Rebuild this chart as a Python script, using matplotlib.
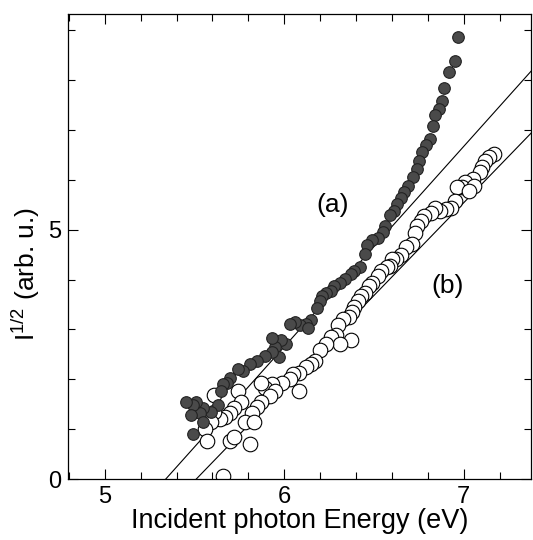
import numpy as np
import matplotlib.pyplot as plt
from matplotlib.ticker import MultipleLocator, FixedLocator

plt.rcParams['font.family'] = ['Liberation Sans', 'DejaVu Sans']
plt.rcParams['mathtext.fontset'] = 'custom'
plt.rcParams['mathtext.rm'] = 'Liberation Sans'

# series (a): filled circles
xa = [6.97, 6.95, 6.92, 6.89, 6.88, 6.86, 6.84, 6.83, 6.81, 6.79, 6.77, 6.75,
      6.74, 6.72, 6.69, 6.67, 6.65, 6.63, 6.61, 6.59, 6.56, 6.55, 6.52, 6.49,
      6.46, 6.45, 6.42, 6.39, 6.37, 6.34, 6.31, 6.28, 6.26, 6.23, 6.21, 6.20,
      6.18, 6.15, 6.12, 6.09, 6.06, 6.03, 6.13, 6.01, 5.98, 5.95, 5.93, 5.97,
      5.93, 5.89, 5.85, 5.81, 5.77, 5.74, 5.70, 5.68, 5.66, 5.65, 5.63, 5.59,
      5.55, 5.53, 5.51, 5.49, 5.45, 5.48, 5.55, 5.49]
ya = [8.86, 8.39, 8.17, 7.84, 7.59, 7.43, 7.31, 7.08, 6.82, 6.70, 6.56, 6.39,
      6.22, 6.05, 5.88, 5.75, 5.64, 5.51, 5.37, 5.30, 5.07, 4.96, 4.83, 4.79,
      4.69, 4.52, 4.25, 4.18, 4.11, 4.01, 3.94, 3.87, 3.77, 3.74, 3.67, 3.57,
      3.43, 3.19, 3.12, 3.09, 3.16, 3.12, 3.02, 2.71, 2.78, 2.65, 2.82, 2.44,
      2.54, 2.47, 2.37, 2.30, 2.17, 2.20, 2.03, 1.93, 1.90, 1.76, 1.49, 1.35,
      1.42, 1.32, 1.55, 1.49, 1.55, 1.28, 1.15, 0.91]

# series (b): open circles
xb = [7.17, 7.14, 7.12, 7.10, 7.09, 7.05, 7.01, 6.99, 6.96, 7.06, 7.03, 6.95,
      6.93, 6.90, 6.87, 6.84, 6.82, 6.78, 6.76, 6.74, 6.73, 6.71, 6.68, 6.65,
      6.62, 6.60, 6.59, 6.57, 6.54, 6.52, 6.49, 6.47, 6.45, 6.43, 6.41, 6.39,
      6.38, 6.36, 6.33, 6.30, 6.29, 6.26, 6.37, 6.31, 6.23, 6.20, 6.17, 6.15,
      6.12, 6.08, 6.05, 6.03, 5.99, 5.93, 5.89, 5.87, 5.95, 5.92, 6.08, 5.87,
      5.85, 5.82, 5.78, 5.83, 5.74, 5.76, 5.72, 5.70, 5.67, 5.64, 5.61, 5.61,
      5.59, 5.56, 5.57, 5.70, 5.72, 5.81, 5.66]
yb = [6.53, 6.46, 6.39, 6.26, 6.16, 6.02, 5.95, 5.85, 5.85, 5.88, 5.78, 5.58,
      5.44, 5.41, 5.37, 5.44, 5.34, 5.27, 5.17, 5.07, 4.93, 4.72, 4.66, 4.49,
      4.42, 4.42, 4.28, 4.25, 4.18, 4.08, 3.94, 3.87, 3.74, 3.67, 3.57, 3.46,
      3.36, 3.26, 3.22, 3.09, 2.88, 2.85, 2.78, 2.71, 2.71, 2.58, 2.37, 2.30,
      2.24, 2.13, 2.10, 2.00, 1.93, 1.90, 1.83, 1.93, 1.76, 1.66, 1.76, 1.55,
      1.45, 1.32, 1.15, 1.15, 1.76, 1.55, 1.42, 1.32, 1.25, 1.21, 1.69, 1.35,
      1.15, 1.01, 0.77, 0.77, 0.84, 0.70, 0.07]

# linear fits: x-intercept and slope
fit_a = (5.34, 4.02)
fit_b = (5.51, 3.72)

fig = plt.figure(figsize=(5.33, 5.40), dpi=100)
ax = fig.add_axes([68/533, 61/540, 463/533, 465/540])

for x0, k in (fit_a, fit_b):
    xx = np.array([x0, 7.5])
    ax.plot(xx, k*(xx - x0), color='black', linewidth=0.8, zorder=1)

ax.scatter(xb, yb, s=110, facecolors='white', edgecolors='black', linewidths=0.8, zorder=2)
ax.scatter(xa, ya, s=70, facecolors='#4a4a4a', edgecolors='#222222', linewidths=0.8, zorder=3)

ax.text(6.27, 5.5, '(a)', fontsize=19, ha='center', va='center')
ax.text(6.91, 3.87, '(b)', fontsize=19, ha='center', va='center')

ax.set_xlim(4.795, 7.375)
ax.set_ylim(0, 9.33)
ax.xaxis.set_major_locator(FixedLocator([5, 6, 7]))
ax.xaxis.set_minor_locator(MultipleLocator(0.2))
ax.yaxis.set_major_locator(FixedLocator([0, 5]))
ax.yaxis.set_minor_locator(MultipleLocator(1))
ax.tick_params(which='both', direction='in', top=True, right=True, width=0.8)
ax.tick_params(which='major', length=7, labelsize=17, pad=5)
ax.tick_params(which='minor', length=5)
for s in ax.spines.values():
    s.set_linewidth(0.9)

ax.set_xlabel('Incident photon Energy (eV)', fontsize=19.5, labelpad=0)
ax.set_ylabel(r'I$^{1/2}$ (arb. u.)', fontsize=19)
ax.yaxis.set_label_coords(-0.056, 0.44)

plt.savefig('out.png', dpi=100)
